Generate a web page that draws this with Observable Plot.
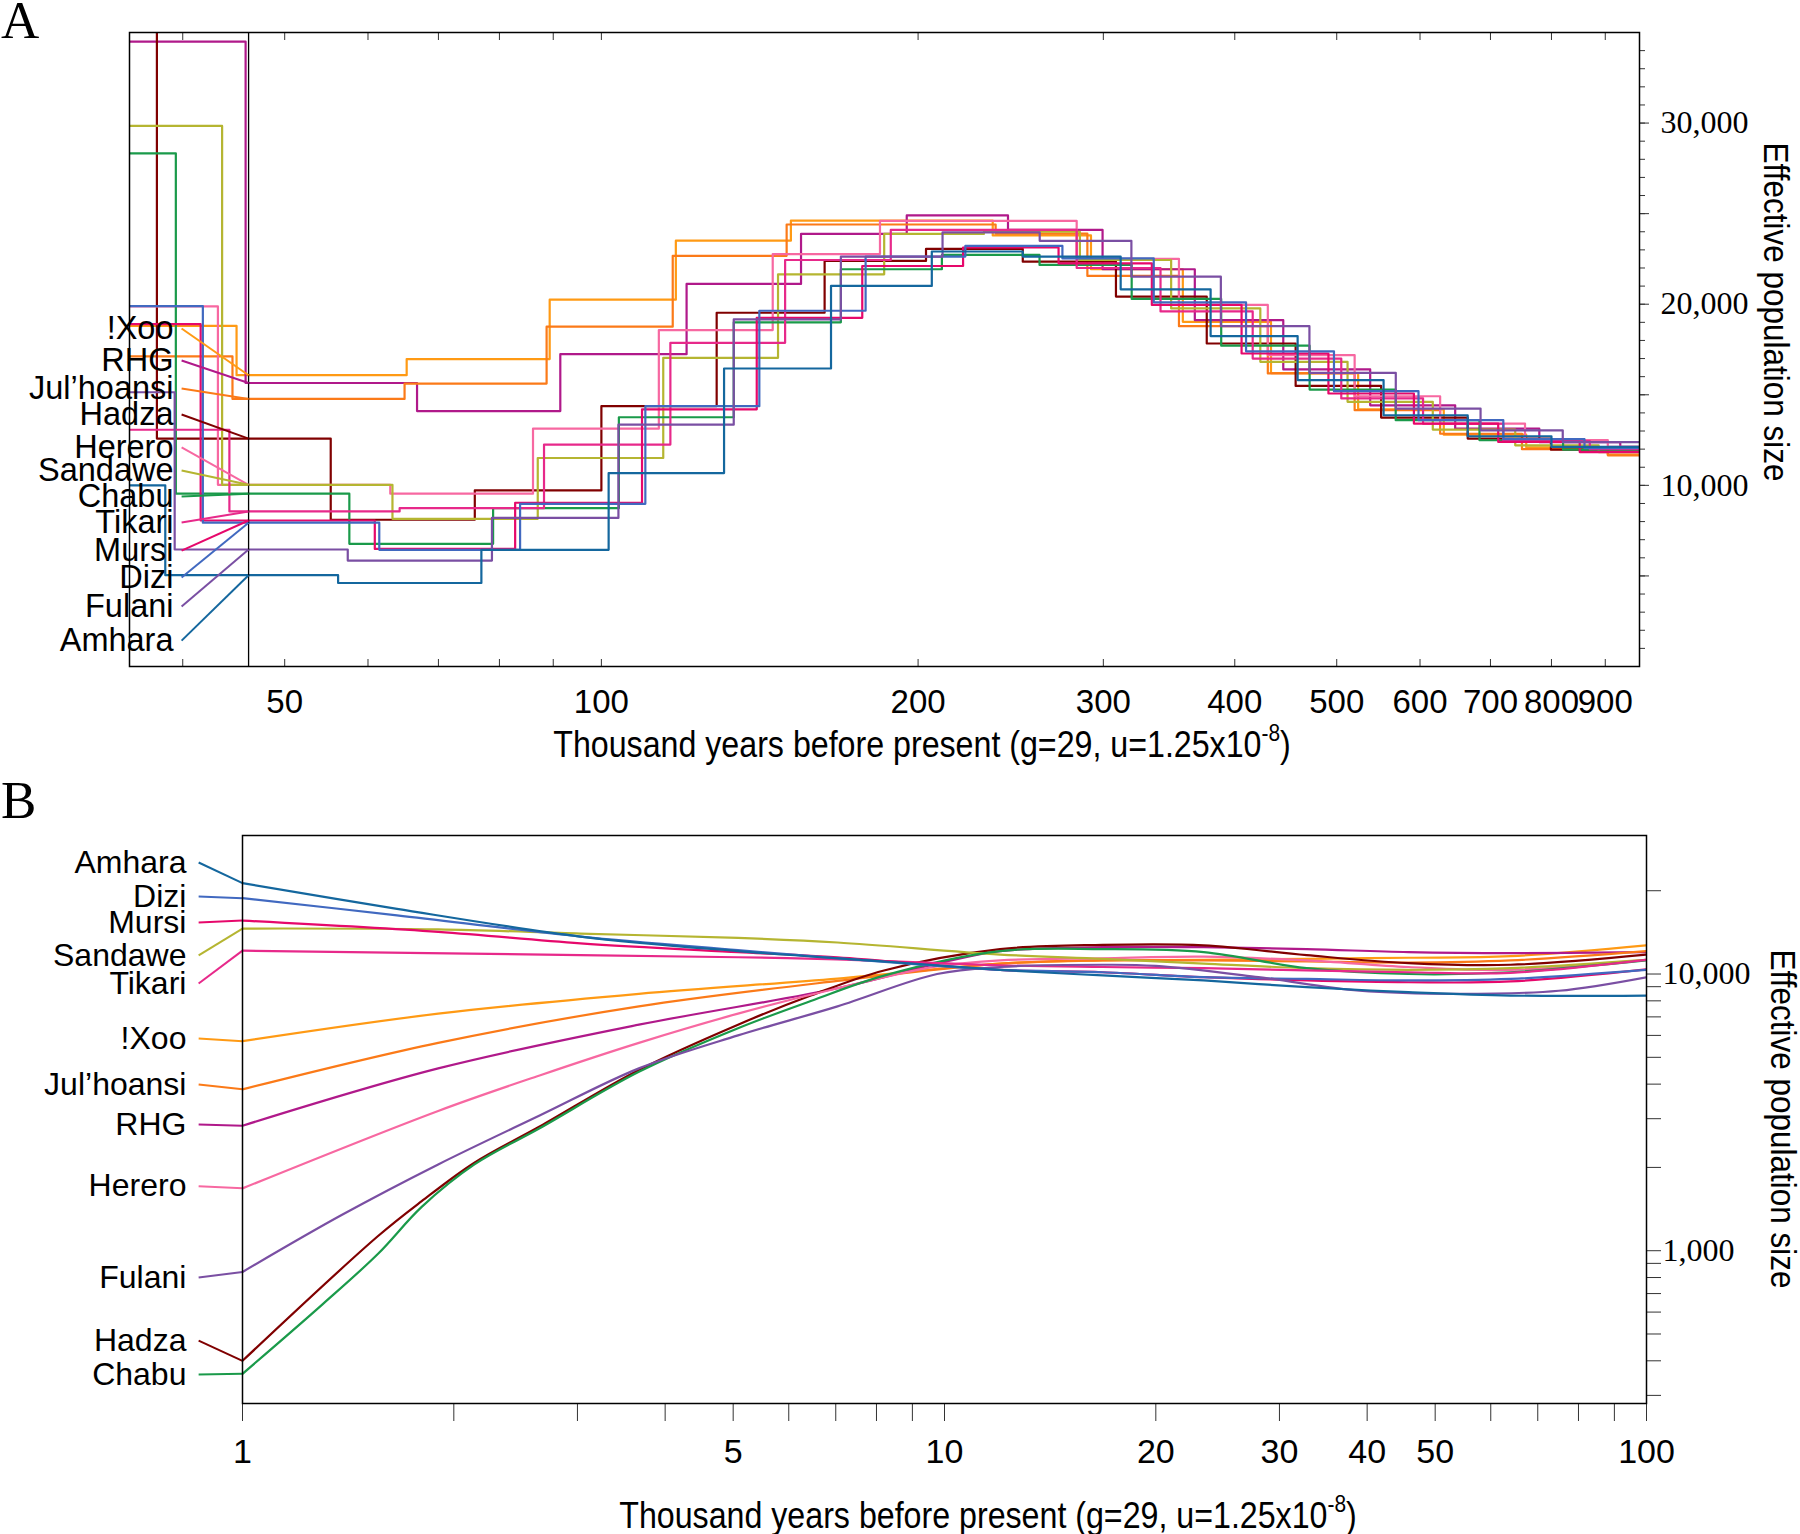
<!DOCTYPE html>
<html>
<head>
<meta charset="utf-8">
<script src="https://cdn.jsdelivr.net/npm/d3@7"></script>
<script src="https://cdn.jsdelivr.net/npm/@observablehq/plot@0.6"></script>
<style>
  html, body { margin: 0; padding: 0; background: #fff; }
  #chart { width: 1800px; height: 1534px; position: relative; background: #fff; }
  #chart svg { display: block; }
  g[aria-label="y-axis tick label"] text, g[aria-label="y-axis tick label"] { font-family: 'Liberation Serif', 'Times New Roman', serif; }
</style>
</head>
<body>
<div id="chart"></div>
<script>
// ---------- categories ----------
const populations = ["!Xoo", "RHG", "Jul’hoansi", "Hadza", "Herero", "Sandawe", "Chabu", "Tikari", "Mursi", "Dizi", "Fulani", "Amhara"];
const colors = ["#ff9a14", "#b0198a", "#fb7a18", "#800000", "#f768a1", "#b5b531", "#1a9a4a", "#e7298a", "#e6086b", "#4169c0", "#7a4fa3", "#14679e"];

// ---------- Panel A: step histories [start of epoch (thousand years), Ne (thousands)] ----------
const stepsXoo = [[30,18.8],[45.0,16.08],[65.3,16.97],[89.3,20.25],[117.7,23.51],[151.4,24.62],[235.5,23.8],[292,21.93],[357,19.03],[433,16.2],[524,14.2],[632,12.8],[757,12.1],[905,11.7]];
const stepsRHG = [[30,34.5],[45.9,15.65],[66.8,14.1],[91.4,17.24],[120.5,21.12],[154.8,23.88],[195.1,24.9],[243.5,24.1],[299.5,21.93],[366.5,19.12],[444.8,16.4],[538,14.42],[648,13.13],[779,12.39],[930,12.12]];
const stepsJul = [[30,17.12],[44.6,14.77],[65,15.62],[88.7,18.76],[116.9,22.67],[150,24.4],[237,23.9],[289.7,21.56],[354,18.79],[430,16.18],[520,14.15],[627,12.85],[750,12.0],[905,11.66]];
const stepsHadza = [[30,60],[37.8,12.58],[55.3,8.1],[75.8,9.72],[100,14.37],[128.7,19.53],[163,22.39],[203.5,23.05],[251.5,22.35],[308.4,20.42],[376.2,17.83],[457,15.49],[551,13.74],[666,12.58],[799,11.97]];
const stepsHerero = [[30,19.88],[43.2,10.03],[63,9.54],[86.1,13.13],[113.4,18.57],[145.5,22.77],[184,24.6],[283,22.5],[354,19.96],[430,17.19],[520,14.92],[627,13.41],[755,12.5],[905,12.12]];
const stepsSandawe = [[30,29.84],[43.6,10.03],[63.3,8.15],[87,11.51],[114.5,17.04],[147.2,21.65],[185.7,23.88],[231,24.0],[285,22.44],[348,19.77],[423,16.82],[512,14.61],[617,13.08],[739,12.21],[887,11.84]];
const stepsChabu = [[30,28.33],[39.4,9.54],[57.6,6.77],[78.9,8.74],[103.9,13.76],[133.6,19.0],[168.9,21.93],[210.7,22.72],[260.9,22.17],[319.2,20.29],[388.3,17.71],[471.2,15.29],[568.9,13.6],[683.4,12.49],[820.6,11.97]];
const stepsTikari = [[30,13.07],[44.3,8.56],[64.3,8.74],[88.2,12.25],[116.3,17.87],[149.5,22.44],[188.4,24.1],[283,22.0],[340,19.6],[416,17.0],[505,14.8],[604,13.4],[720,12.45],[870,12.0]];
const stepsMursi = [[30,18.9],[41.6,8.06],[60.9,6.49],[82.8,9.04],[109.3,14.2],[140.5,19.25],[177,22.11],[220.7,23.13],[272,22.26],[333.6,19.96],[406,17.28],[491,15.07],[592,13.41],[712,12.4],[851,11.84]];
const stepsDizi = [[30,19.9],[41.8,7.94],[61.5,6.44],[83.7,8.98],[110.1,14.37],[141.3,19.64],[178.3,22.63],[221.8,23.22],[274.3,22.53],[335,20.1],[410,17.4],[497,15.2],[598,13.6],[720,12.55],[860,12.05]];
const stepsFulani = [[30,15.14],[39.3,6.46],[57.4,5.85],[78.7,8.2],[103.8,13.35],[133.6,19.16],[168.9,22.63],[211,23.97],[261,23.5],[319,21.52],[388,18.79],[471,16.21],[569,14.24],[685,13.04],[820,12.39]];
const stepsAmhara = [[30,10.0],[38.5,5.04],[56.2,4.61],[76.9,6.44],[101.6,10.68],[130.8,16.45],[165.3,21.01],[206.1,22.91],[251.5,22.63],[311.6,20.82],[379.4,18.24],[459,15.81],[554,13.87],[666,12.71],[800,12.12]];
const stepsA = [stepsXoo, stepsRHG, stepsJul, stepsHadza, stepsHerero, stepsSandawe, stepsChabu, stepsTikari, stepsMursi, stepsDizi, stepsFulani, stepsAmhara];

// ---------- Panel B: smooth histories [thousand years, Ne (thousands)] ----------
const curveXoo = [[1,5.72],[1.9,7.19],[3.67,8.48],[7.04,9.63],[12,10.9],[16.8,11.2],[23.4,11.25],[32.8,11.35],[45.8,11.45],[64,11.6],[100,12.7]];
const curveRHG = [[1,2.83],[1.9,4.56],[3.67,6.56],[7.04,8.88],[9.76,10.9],[12,12.1],[16.8,12.5],[23.4,12.5],[32.8,12.3],[45.8,12.0],[64,11.9],[100,12.0]];
const curveJul = [[1,3.83],[1.9,5.64],[3.67,7.64],[7.04,9.44],[12,10.9],[16.8,11.2],[23.4,11.2],[32.8,11.1],[45.8,11.0],[64,11.2],[100,12.1]];
const curveHadza = [[1,0.40],[1.56,1.13],[1.8,1.51],[2.14,2.08],[2.65,2.81],[3.67,4.5],[5.08,6.56],[6.45,8.36],[8.2,10.3],[12,12.3],[16.8,12.75],[23.4,12.7],[32.8,11.7],[45.8,10.95],[64,10.8],[100,11.76]];
const curveHerero = [[1,1.68],[1.9,3.2],[2.65,4.3],[3.67,5.64],[5.08,7.19],[7.04,8.88],[9.76,10.65],[12,11.2],[16.8,11.4],[23.4,11.55],[32.8,11.2],[45.8,10.6],[64,10.35],[100,11.25]];
const curveSandawe = [[1,14.6],[1.9,14.5],[3.03,14.0],[5.08,13.5],[7.04,13.0],[12,11.76],[16.8,11.35],[23.4,10.9],[32.8,10.5],[45.8,10.35],[64,10.5],[100,11.25]];
const curveChabu = [[1,0.359],[1.3,0.64],[1.56,0.975],[1.8,1.44],[2.14,2.05],[2.65,2.77],[3.67,4.43],[5.08,6.37],[6.45,7.99],[8.2,9.87],[12,12.1],[16.8,12.3],[23.4,12.0],[32.8,10.5],[45.8,10.0],[64,10.15],[100,11.2]];
const curveTikari = [[1,12.15],[3.03,11.7],[5.08,11.5],[7.04,11.3],[12,10.75],[16.8,10.6],[23.4,10.5],[32.8,10.3],[45.8,10.15],[64,10.1],[100,11.25]];
const curveMursi = [[1,15.6],[1.9,14.2],[3.03,12.9],[5.08,12.0],[7.04,11.5],[12,10.35],[16.8,10.15],[23.4,9.74],[32.8,9.48],[45.8,9.34],[64,9.4],[100,10.4]];
const curveDizi = [[1,18.8],[1.66,16.3],[3.03,13.66],[5.08,12.2],[7.04,11.4],[9.76,10.7],[12,10.35],[16.8,10.15],[23.4,9.74],[32.8,9.6],[45.8,9.48],[64,9.6],[100,10.35]];
const curveFulani = [[1,0.838],[1.38,1.34],[1.9,2.05],[2.65,3.08],[3.67,4.56],[5.08,6.0],[7.04,7.64],[9.76,10.0],[12,10.6],[16.8,10.8],[20,10.7],[28,9.74],[39,8.7],[54,8.48],[75,8.7],[100,9.74]];
const curveAmhara = [[1,21.3],[1.66,17.2],[3.03,13.66],[5.08,12.1],[8.2,11.1],[12,10.35],[16.8,9.88],[23.4,9.48],[32.8,8.96],[45.8,8.6],[64,8.36],[100,8.36]];
const curvesB = [curveXoo, curveRHG, curveJul, curveHadza, curveHerero, curveSandawe, curveChabu, curveTikari, curveMursi, curveDizi, curveFulani, curveAmhara];

// ---------- ticks ----------
const xTicksA = [40,50,60,70,80,90,100,200,300,400,500,600,700,800,900];
const xLabelsA = [50,100,200,300,400,500,600,700,800,900];
const yMinorA = d3.range(1, 35);
const yMajorA = [5,10,15,20,25,30];
const yLabelsA = [10,20,30];
const xTicksB = [1,2,3,4,5,6,7,8,9,10,20,30,40,50,60,70,80,90,100];
const xLabelsB = [1,5,10,20,30,40,50,100];
const yTicksB = [0.3,0.4,0.5,0.6,0.7,0.8,0.9,1,2,3,4,5,6,7,8,9,10,20];
const yLabelsB = [1,10];

// ---------- label layout (label y in data units, per population) ----------
const refLineT = 46.2;           // vertical reference line in panel A
const labelYA = [18.66,16.89,15.35,13.91,12.09,10.82,9.38,7.95,6.4,4.91,3.31,1.43];
const labelYB = [5.85,2.86,3.99,0.473,1.71,11.67,0.357,9.24,15.35,19.05,0.80,25.3];
const labelTA = 39.2, leaderTA = 39.9;
const labelTB = 0.832, leaderTB = 0.866;

const sansFont = "'Liberation Sans', Arial, Helvetica, sans-serif";
const serifFont = "'Liberation Serif', 'Times New Roman', serif";

function stepValue(steps, t) {
  let v = steps[0][1];
  for (const [s, n] of steps) if (s <= t) v = n;
  return v;
}

const rowsA = populations.flatMap((p, i) => {
  const s = stepsA[i];
  const r = s.map(([t, n]) => ({pop: p, t, n}));
  r.push({pop: p, t: 1000, n: s[s.length - 1][1]});
  return r;
});
const rowsB = populations.flatMap((p, i) => curvesB[i].map(([t, n]) => ({pop: p, t, n})));

const leadA = populations.map((p, i) => ({pop: p, lx: labelTA, lx2: leaderTA, ly: labelYA[i], vx: refLineT, vy: stepValue(stepsA[i], refLineT)}));
const leadB = populations.map((p, i) => ({pop: p, lx: labelTB, lx2: leaderTB, ly: labelYB[i], vx: curvesB[i][0][0], vy: curvesB[i][0][1]}));

const fmtN = d => d3.format(",")(Math.round(d * 1000));

const svgA = Plot.plot({
  width: 1800, height: 767,
  marginTop: 32, marginBottom: 101, marginLeft: 129, marginRight: 161,
  style: {fontFamily: sansFont, fontSize: "33px", background: "white", overflow: "visible", color: "black"},
  x: {type: "log", domain: [35.6, 970]},
  y: {domain: [0, 35]},
  color: {domain: populations, range: colors},
  marks: [
    Plot.axisX({anchor: "bottom", ticks: xTicksA, tickSize: -7, tickFormat: () => "", label: null, stroke: "#333"}),
    Plot.axisX({anchor: "top", ticks: xTicksA, tickSize: -7, tickFormat: () => "", label: null, stroke: "#333"}),
    Plot.text(xLabelsA, {x: d => d, text: d => String(d), frameAnchor: "bottom", lineAnchor: "top", dy: 23, fontSize: 33, fontFamily: sansFont, fill: "black"}),
    Plot.axisY({anchor: "right", ticks: yMinorA, tickSize: 5, tickFormat: () => "", label: null, stroke: "#333"}),
    Plot.axisY({anchor: "right", ticks: yMajorA, tickSize: 9, tickFormat: () => "", label: null, stroke: "#333"}),
    Plot.axisY({anchor: "right", ticks: yLabelsA, tickSize: 0, tickPadding: 21, tickFormat: fmtN, label: null, fontSize: 32, fontFamily: serifFont}),
    Plot.line(rowsA, {x: "t", y: "n", z: "pop", stroke: "pop", curve: "step-after", strokeWidth: 2.2, clip: true}),
    Plot.ruleX([refLineT], {stroke: "black", strokeWidth: 1.3}),
    Plot.link(leadA, {x1: "lx2", y1: "ly", x2: "vx", y2: "vy", stroke: "pop", strokeWidth: 2}),
    Plot.text(leadA, {x: "lx", y: "ly", text: "pop", textAnchor: "end", fill: "black", fontSize: 32.5, fontFamily: sansFont}),
    Plot.frame({stroke: "black", strokeWidth: 1.5})
  ]
});

const svgB = Plot.plot({
  width: 1800, height: 767,
  marginTop: 68, marginBottom: 131, marginLeft: 242, marginRight: 154,
  style: {fontFamily: sansFont, fontSize: "34px", background: "white", overflow: "visible", color: "black"},
  x: {type: "log", domain: [1, 100]},
  y: {type: "log", domain: [0.2804, 31.67]},
  color: {domain: populations, range: colors},
  marks: [
    Plot.axisX({anchor: "bottom", ticks: xTicksB, tickSize: 18, tickFormat: () => "", label: null, stroke: "#333"}),
    Plot.text(xLabelsB, {x: d => d, text: d => String(d), frameAnchor: "bottom", lineAnchor: "top", dy: 35, fontSize: 34, fontFamily: sansFont, fill: "black"}),
    Plot.axisY({anchor: "right", ticks: yTicksB, tickSize: 14, tickFormat: () => "", label: null, stroke: "#333"}),
    Plot.axisY({anchor: "right", ticks: yLabelsB, tickSize: 0, tickPadding: 16, tickFormat: fmtN, label: null, fontSize: 32, fontFamily: serifFont}),
    Plot.line(rowsB, {x: "t", y: "n", z: "pop", stroke: "pop", curve: "catmull-rom", strokeWidth: 2.2, clip: true}),
    Plot.link(leadB, {x1: "lx2", y1: "ly", x2: "vx", y2: "vy", stroke: "pop", strokeWidth: 2}),
    Plot.text(leadB, {x: "lx", y: "ly", text: "pop", textAnchor: "end", fill: "black", fontSize: 32, fontFamily: sansFont}),
    Plot.frame({stroke: "black", strokeWidth: 1.5})
  ]
});

const chart = document.getElementById("chart");
chart.appendChild(svgA);
chart.appendChild(svgB);

function addXTitle(svg, cx, y) {
  const t = d3.select(svg).append("text")
    .attr("transform", `translate(${cx},${y}) scale(0.87,1)`)
    .attr("text-anchor", "middle")
    .attr("font-family", sansFont)
    .attr("font-size", 37)
    .attr("fill", "black");
  t.append("tspan").text("Thousand years before present (g=29, u=1.25x10");
  t.append("tspan").attr("font-size", 24).attr("dy", -16).text("-8");
  t.append("tspan").attr("dy", 16).text(")");
}
function addYTitle(svg, cx, cy) {
  d3.select(svg).append("text")
    .attr("transform", `translate(${cx},${cy}) rotate(90) scale(0.9,1)`)
    .attr("text-anchor", "middle")
    .attr("dy", "0.35em")
    .attr("font-family", sansFont)
    .attr("font-size", 35)
    .attr("fill", "black")
    .text("Effective population size");
}
function addLetter(svg, letter, y) {
  d3.select(svg).append("text")
    .attr("x", 1).attr("y", y)
    .attr("text-anchor", "start")
    .attr("font-family", serifFont)
    .attr("font-size", 53)
    .attr("fill", "black")
    .text(letter);
}
addXTitle(svgA, 922, 757);
addYTitle(svgA, 1776, 312);
addLetter(svgA, "A", 38);
addXTitle(svgB, 988, 761);
addYTitle(svgB, 1783, 352);
addLetter(svgB, "B", 51);
</script>
</body>
</html>
